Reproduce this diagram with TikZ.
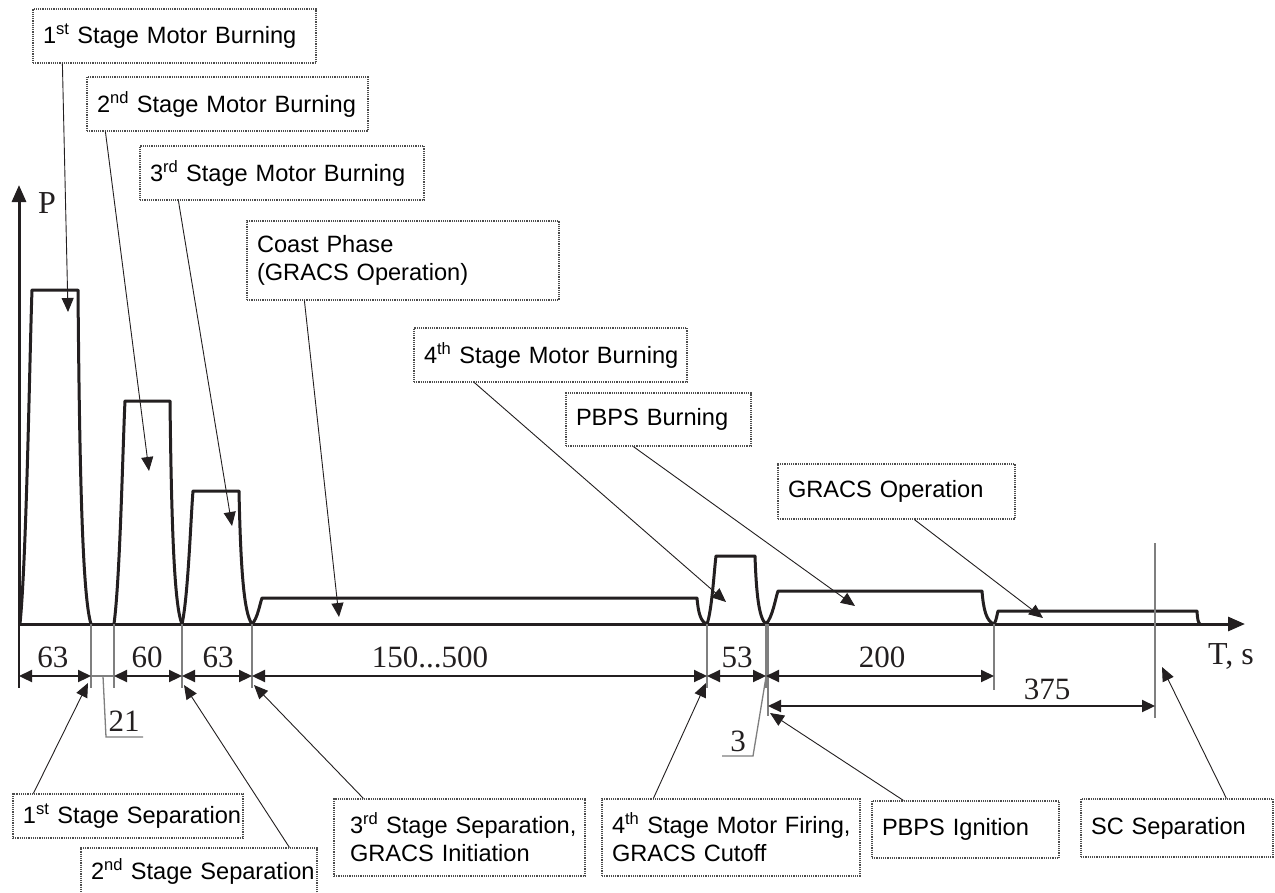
\documentclass[tikz,border=0pt]{standalone}
\usepackage{fontspec}
\setmainfont{Liberation Sans}
\newfontfamily\numfont{Liberation Serif}
\usetikzlibrary{arrows.meta,calc}
\definecolor{Ink}{HTML}{231F20}
\definecolor{Guide}{HTML}{7F7F7F}
\definecolor{Frame}{HTML}{4D4D4D}
\tikzset{
  axis line/.style={draw=Ink,line width=3pt,-{Triangle[length=17pt,width=14pt]}},
  pulse/.style={draw=Ink,line width=3pt,line join=round},
  ext line/.style={draw=Guide,line width=1.3pt},
  dim line/.style={draw=Ink,line width=2.2pt,{Triangle[length=13pt,width=12pt]}-{Triangle[length=13pt,width=12pt]}},
  leader/.style={draw=Ink,line width=0.9pt,-{Triangle[length=14pt,width=12pt]}},
  callout/.style={draw=Frame,densely dotted,line width=1.2pt,align=left,inner xsep=10pt,inner ysep=0pt,font=\fontsize{23.6}{28}\selectfont},
  dim label/.style={text=Ink,inner sep=0pt,font=\numfont\fontsize{31}{31}\selectfont},
  axis label/.style={text=Ink,inner sep=0pt,font=\numfont\fontsize{32}{32}\selectfont}
}
\newcommand{\Pulse}[5]{%
  \draw[pulse] (#1,624) .. controls ({#1+0.55*(#2-#1)},{624-0.2*(624-#5)}) and ({#2-0.2*(#2-#1)},{#5+0.2*(624-#5)}) .. (#2,#5)
    -- (#3,#5) .. controls ({#3+0.12*(#4-#3)},{#5+0.55*(624-#5)}) and ({#3+0.35*(#4-#3)},{624-0.08*(624-#5)}) .. (#4,624);
}

\begin{document}
\begin{tikzpicture}[x=1pt,y=-1pt,line cap=butt]
  \useasboundingbox (0,0) rectangle (1275,892);
  \fill[white] (0,0) rectangle (1275,892);

  % axes
  \draw[axis line] (19,624) -- (19,185);
  \draw[axis line] (18,624) -- (1245,624);
  \node[axis label] (plab) at (47,203) {P};
  \node[axis label] (tlab) at (1231,656) {T, s};

  % thrust profile
  \Pulse{20}{32}{78}{91}{290}
  \Pulse{114}{125}{170}{182}{401}
  \Pulse{182}{193}{239}{252}{491}
  \Pulse{252}{262}{697}{707}{598}
  \Pulse{707}{716}{755}{766}{556}
  \Pulse{766}{778}{982}{994}{591}
  \Pulse{994}{998}{1197}{1200}{611}

  % extension lines
  \draw[draw=Ink,line width=1.3pt] (19,624) -- (19,688);
  \foreach \xe in {91,114,182,252,707,766} {
    \draw[ext line] (\xe,624) -- (\xe,688);
  }
  \draw[ext line] (768,624) -- (768,716);
  \draw[ext line] (994,624) -- (994,690);
  \draw[ext line] (1155,543) -- (1155,718);

  % dimensions
  \foreach \xa/\xb/\lab/\xl in {19/91/63/53,114/182/60/147,182/252/63/218,707/766/53/737,766/994/200/882} {
    \draw[dim line] (\xa,676) -- (\xb,676);
    \node[dim label] at (\xl,657) {\lab};
  }
  \draw[dim line] (252,676) -- (707,676);
  \node[dim label] (dcoast) at (430,657) {150...500};
  \draw[dim line] (768,706) -- (1155,706);
  \node[dim label] (d375) at (1047,689) {375};
  \draw[ext line] (91,676) -- (114,676);
  \draw[ext line] (103,676) -- (106,737) -- (143,737);
  \node[dim label] (d21) at (124,721) {21};
  \draw[ext line] (766,677) -- (753,756) -- (722,756);
  \node[dim label] (d3) at (738,741) {3};

  % event tips
  \coordinate (p1) at (68,312);
  \coordinate (p2) at (149,471);
  \coordinate (p3) at (232,526);
  \coordinate (p4) at (339,617);
  \coordinate (p5) at (726,602);
  \coordinate (p6) at (855,606);
  \coordinate (p7) at (1043,618);
  \coordinate (q1) at (88,683);
  \coordinate (q2) at (184,685);
  \coordinate (q3) at (254,685);
  \coordinate (q4) at (706,683);
  \coordinate (q5) at (770,713);
  \coordinate (q6) at (1162,667);

  % upper callouts
  \node[callout,text width=263pt,minimum height=54pt] (t1) at (174.5,36) {\mbox{1\textsuperscript{st} Stage Motor Burning}};
  \node[callout,text width=261pt,minimum height=54pt] (t2) at (227.5,104) {\mbox{2\textsuperscript{nd} Stage Motor Burning}};
  \node[callout,text width=264pt,minimum height=54pt] (t3) at (282,173) {\mbox{3\textsuperscript{rd} Stage Motor Burning}};
  \node[callout,text width=292pt,minimum height=79pt] (t4) at (403,260.5) {Coast Phase\\\mbox{(GRACS Operation)}};
  \node[callout,text width=253pt,minimum height=54pt] (t5) at (550.5,355) {\mbox{4\textsuperscript{th} Stage Motor Burning}};
  \node[callout,text width=165pt,minimum height=53pt] (t6) at (658.5,419.5) {\mbox{PBPS Burning}};
  \node[callout,text width=217pt,minimum height=55pt] (t7) at (896.5,491.5) {\mbox{GRACS Operation}};

  \draw[leader] ([xshift=30pt]t1.south west) -- (p1);
  \draw[leader] ([xshift=19pt]t2.south west) -- (p2);
  \draw[leader] ([xshift=39pt]t3.south west) -- (p3);
  \draw[leader] ([xshift=58pt]t4.south west) -- (p4);
  \draw[leader] ([xshift=61pt]t5.south west) -- (p5);
  \draw[leader] ([xshift=68pt]t6.south west) -- (p6);
  \draw[leader] ([xshift=137pt]t7.south west) -- (p7);

  % lower callouts
  \node[callout,text width=210pt,minimum height=44pt] (b1) at (128,816) {\mbox{1\textsuperscript{st} Stage Separation}};
  \node[callout,text width=216pt,minimum height=46pt] (b2) at (199,871) {\mbox{2\textsuperscript{nd} Stage Separation}};
  \node[callout,inner xsep=16pt,text width=219pt,minimum height=77pt] (b3) at (459.5,837.5) {\mbox{3\textsuperscript{rd} Stage Separation,}\\\mbox{GRACS Initiation}};
  \node[callout,text width=238pt,minimum height=77pt] (b4) at (731,837.5) {\mbox{4\textsuperscript{th} Stage Motor Firing,}\\\mbox{GRACS Cutoff}};
  \node[callout,text width=167pt,minimum height=57pt] (b5) at (965.5,829.5) {\mbox{PBPS Ignition}};
  \node[callout,text width=172pt,minimum height=58pt] (b6) at (1177,828) {\mbox{SC Separation}};

  \draw[leader] ([xshift=21pt]b1.north west) -- (q1);
  \draw[leader] ([xshift=209pt]b2.north west) -- (q2);
  \draw[leader] ([xshift=30pt]b3.north west) -- (q3);
  \draw[leader] ([xshift=52pt]b4.north west) -- (q4);
  \draw[leader] ([xshift=32pt]b5.north west) -- (q5);
  \draw[leader] ([xshift=146pt]b6.north west) -- (q6);
\end{tikzpicture}
\end{document}
